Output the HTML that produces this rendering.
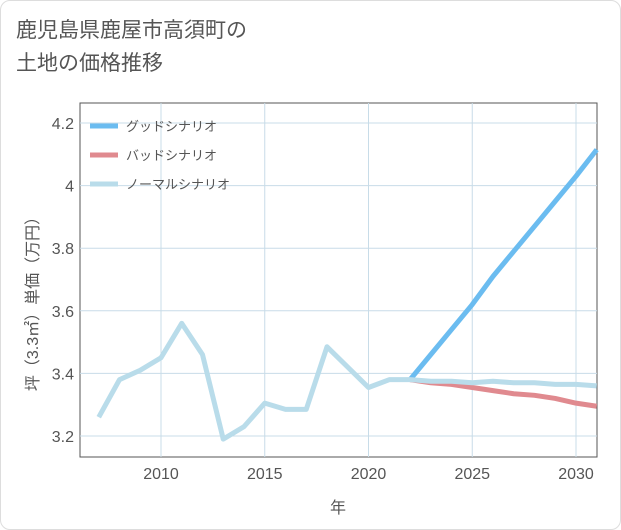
<!DOCTYPE html>
<html><head><meta charset="utf-8"><style>
body{margin:0;background:#fff;font-family:"Liberation Sans","Noto Sans CJK JP",sans-serif;}
.card{position:absolute;left:0;top:0;width:619px;height:528px;border:1px solid #ddd;border-radius:10px;background:#fff;}
.title{position:absolute;left:16px;top:14px;font-size:21px;line-height:33px;color:#555;}
</style></head><body>
<div class="card"></div>
<div class="title">鹿児島県鹿屋市高須町の<br>土地の価格推移</div>
<svg id="chart" width="621" height="530" style="position:absolute;left:0;top:0"></svg>
<script>
const normalYears=[2007,2008,2009,2010,2011,2012,2013,2014,2015,2016,2017,2018,2019,2020,2021,2022,2023,2024,2025,2026,2027,2028,2029,2030,2031];
const normalValues=[3.26,3.38,3.41,3.45,3.56,3.46,3.19,3.23,3.305,3.285,3.285,3.485,3.42,3.355,3.38,3.38,3.375,3.375,3.37,3.375,3.37,3.37,3.365,3.365,3.36];
const futureYears=[2022,2023,2024,2025,2026,2027,2028,2029,2030,2031];
const goodValues=[3.38,3.46,3.54,3.62,3.71,3.79,3.87,3.95,4.03,4.115];
const badValues=[3.38,3.37,3.365,3.355,3.345,3.335,3.33,3.32,3.305,3.295];
const xTicks=[2010,2015,2020,2025,2030];
const yTicks=[3.2,3.4,3.6,3.8,4.0,4.2];
const yTickLabels=["3.2","3.4","3.6","3.8","4","4.2"];
const legendLabels=["グッドシナリオ","バッドシナリオ","ノーマルシナリオ"];
const L=80,R=597,T=103,B=457;
const x=v=>161+(v-2010)*(576-161)/20;
const y=v=>436-(v-3.2)*(436-123)/1.0;
const svg=document.getElementById('chart');const NS='http://www.w3.org/2000/svg';
function mk(t,a){const e=document.createElementNS(NS,t);for(const k in a)e.setAttribute(k,a[k]);svg.appendChild(e);return e;}
let e=mk('rect',{x:L,y:T,width:R-L,height:B-T,fill:'#fff',stroke:'#555','stroke-width':1});


xTicks.forEach(t=>{let g=mk('line',{x1:x(t),x2:x(t),y1:T,y2:B,stroke:'#c8dce8'});


let l=mk('text',{x:x(t),y:B+22,'text-anchor':'middle','font-size':16,fill:'#555'});l.textContent=t;

});
yTicks.forEach((t,i)=>{let g=mk('line',{x1:L,x2:R,y1:y(t),y2:y(t),stroke:'#c8dce8'});


let l=mk('text',{x:L-6,y:y(t)+6,'text-anchor':'end','font-size':16,fill:'#555'});l.textContent=yTickLabels[i];

});
function line(xs,vs,c,n){let p=mk('polyline',{points:xs.map((v,i)=>x(v)+','+y(vs[i])).join(' '),fill:'none',stroke:c,'stroke-width':5,'stroke-linejoin':'round'});

}
line(futureYears,goodValues,'#6bbcf0','good-scenario-line');
line(futureYears,badValues,'#e08a8f','bad-scenario-line');
line(normalYears,normalValues,'#b9dcea','normal-scenario-line');
const lc=['#6bbcf0','#e08a8f','#b9dcea'];
legendLabels.forEach((s,i)=>{let yy=126+i*29;
let l=mk('line',{x1:90,x2:118,y1:yy,y2:yy,stroke:lc[i],'stroke-width':5});


let t=mk('text',{x:126,y:yy+5,'font-size':13,fill:'#555'});t.textContent=s;

});
let xt=mk('text',{x:338,y:513,'text-anchor':'middle','font-size':16,fill:'#555'});xt.textContent='年';


let yt=mk('text',{x:0,y:0,'text-anchor':'middle','font-size':16,fill:'#555',transform:'translate(38,300) rotate(-90)'});yt.textContent='坪（3.3㎡）単価（万円）';


</script>
</body></html>
